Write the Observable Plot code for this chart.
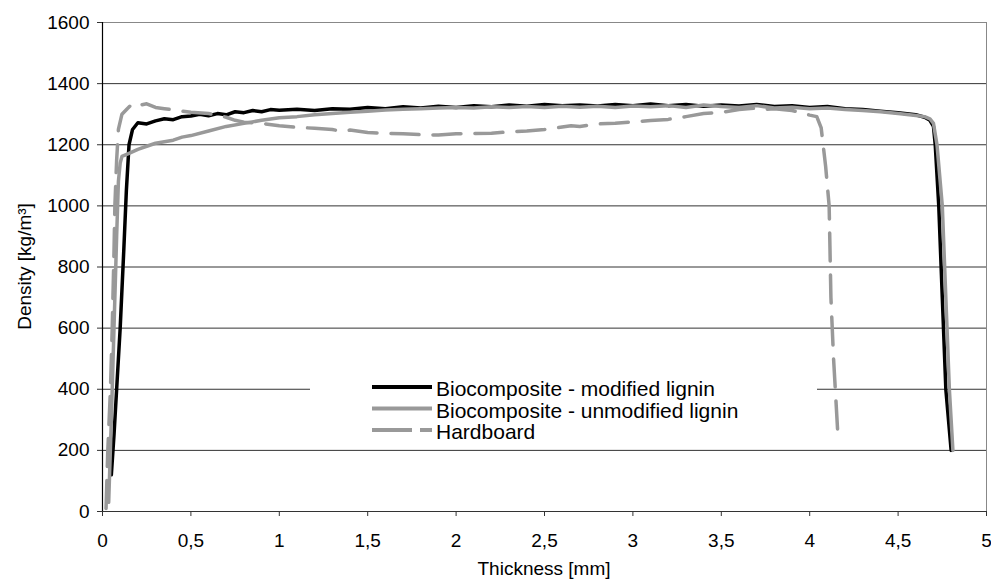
<!DOCTYPE html>
<html><head><meta charset="utf-8">
<script src="https://cdn.jsdelivr.net/npm/d3@7"></script>
<script src="https://cdn.jsdelivr.net/npm/@observablehq/plot@0.6"></script>
<style>
body{margin:0;background:#fff}
#chart{position:relative;width:991px;height:580px}
</style>
</head><body><div id="chart"></div>
<script>
const seriesNames = ["Biocomposite - modified lignin", "Biocomposite - unmodified lignin", "Hardboard"];
const xTicks = [0, 0.5, 1, 1.5, 2, 2.5, 3, 3.5, 4, 4.5, 5];
const yTicks = [0, 200, 400, 600, 800, 1000, 1200, 1400, 1600];
const xTitle = "Thickness [mm]";
const yTitle = "Density [kg/m³]";

// Biocomposite - modified lignin
const modX = [0.05,0.065,0.08,0.1,0.12,0.135,0.15,0.17,0.2,0.25,0.3,0.35,0.4,0.45,0.5,0.55,0.6,0.65,0.7,0.75,0.8,0.85,0.9,0.95,1.0,1.1,1.2,1.3,1.4,1.5,1.6,1.7,1.8,1.9,2.0,2.1,2.2,2.3,2.4,2.5,2.6,2.7,2.8,2.9,3.0,3.1,3.2,3.3,3.4,3.5,3.6,3.7,3.8,3.9,4.0,4.1,4.2,4.3,4.4,4.5,4.6,4.65,4.68,4.7,4.71,4.73,4.75,4.77,4.8];
const modY = [120,250,400,600,850,1050,1200,1250,1272,1268,1278,1285,1282,1292,1294,1300,1295,1302,1298,1308,1305,1312,1308,1315,1313,1316,1312,1318,1316,1322,1318,1324,1320,1326,1322,1328,1324,1330,1326,1332,1328,1330,1327,1332,1328,1333,1328,1332,1326,1330,1327,1332,1325,1328,1322,1325,1318,1315,1310,1305,1298,1290,1280,1260,1200,1000,700,400,200];

// Biocomposite - unmodified lignin
const unmodX = [0.035,0.05,0.065,0.08,0.09,0.1,0.11,0.15,0.2,0.25,0.3,0.35,0.4,0.45,0.5,0.6,0.7,0.8,0.9,1.0,1.1,1.2,1.3,1.4,1.5,1.6,1.7,1.8,1.9,2.0,2.1,2.2,2.3,2.4,2.5,2.6,2.7,2.8,2.9,3.0,3.1,3.2,3.3,3.4,3.5,3.6,3.7,3.8,3.9,4.0,4.1,4.2,4.3,4.4,4.5,4.6,4.65,4.68,4.7,4.72,4.75,4.77,4.79,4.81];
const unmodY = [30,300,600,900,1080,1140,1162,1172,1185,1195,1205,1210,1215,1225,1230,1245,1260,1270,1280,1288,1292,1298,1302,1306,1310,1314,1316,1318,1320,1322,1320,1324,1322,1325,1322,1326,1323,1326,1322,1327,1324,1328,1322,1330,1325,1322,1328,1320,1323,1318,1320,1315,1312,1308,1302,1296,1292,1285,1270,1200,1000,700,400,200];

// Hardboard
const hardX = [0.02,0.03,0.045,0.055,0.065,0.07,0.08,0.09,0.11,0.14,0.17,0.2,0.25,0.3,0.35,0.4,0.5,0.6,0.7,0.75,0.8,0.9,1.0,1.1,1.2,1.3,1.35,1.4,1.5,1.6,1.7,1.8,1.9,2.0,2.1,2.2,2.3,2.4,2.5,2.6,2.65,2.7,2.8,2.9,3.0,3.1,3.2,3.3,3.4,3.5,3.6,3.7,3.75,3.8,3.9,3.95,4.0,4.04,4.065,4.09,4.11,4.12,4.135,4.16];
const hardY = [10,200,400,600,850,1000,1150,1250,1300,1318,1335,1328,1334,1322,1318,1314,1306,1302,1290,1280,1274,1270,1262,1257,1254,1250,1244,1248,1240,1237,1236,1233,1232,1236,1237,1238,1242,1245,1250,1258,1262,1260,1268,1270,1275,1279,1283,1292,1302,1306,1315,1320,1316,1318,1312,1305,1297,1292,1255,1130,1000,700,500,245];

const toRows = (xs, ys) => xs.map((x, i) => ({x, y: ys[i]}));
const modData = toRows(modX, modY);
const unmodData = toRows(unmodX, unmodY);
const hardData = toRows(hardX, hardY);
const gridVals = yTicks.filter(v => v > 0 && v < 1600);
const fmt = d => String(d).replace(".", ",");

const W = 991, H = 580, ML = 102, MR = 5, MT = 22, MB = 69;
const svg = Plot.plot({
  width: W, height: H,
  marginLeft: ML, marginRight: MR, marginTop: MT, marginBottom: MB,
  style: {fontFamily: "'Liberation Sans', Arial, sans-serif", fontSize: "19px", color: "#000", background: "#fff", overflow: "visible"},
  x: {domain: [0, 5]},
  y: {domain: [0, 1600]},
  marks: [
    Plot.frame({stroke: "#888", strokeWidth: 1}),
    Plot.ruleY(gridVals, {stroke: "#333", strokeWidth: 1}),
    Plot.ruleY([0], {stroke: "#333", strokeWidth: 1.2}),
    Plot.ruleX([0], {stroke: "#000", strokeWidth: 1.2}),
    Plot.axisX({ticks: xTicks, tickFormat: fmt, tickSize: 5, tickPadding: 17, label: null, stroke: "#333"}),
    Plot.axisY({ticks: yTicks, tickFormat: d => String(d), tickSize: 5, tickPadding: 8, label: null, stroke: "#333"}),
    Plot.line(modData, {x: "x", y: "y", stroke: "#000", strokeWidth: 3.5, strokeLinejoin: "round"}),
    Plot.line(unmodData, {x: "x", y: "y", stroke: "#999", strokeWidth: 3.5, strokeLinejoin: "round"}),
    Plot.line(hardData, {x: "x", y: "y", stroke: "#999", strokeWidth: 3.5, strokeDasharray: "28,14", strokeLinejoin: "round"})
  ]
});
document.getElementById("chart").appendChild(svg);

const s = d3.select(svg);
// axis titles
s.append("text").attr("x", (ML + W - MR) / 2).attr("y", 575).attr("text-anchor", "middle")
  .style("font-size", "19px").attr("fill", "#000").text(xTitle);
s.append("text").attr("transform", `translate(31,${(MT + H - MB) / 2}) rotate(-90)`).attr("text-anchor", "middle")
  .style("font-size", "19px").attr("fill", "#000").text(yTitle);

// legend
const lg = s.append("g");
lg.append("rect").attr("x", 310).attr("y", 368).attr("width", 507).attr("height", 76).attr("fill", "#fff");
const legendStyles = [
  {stroke: "#000", dash: null},
  {stroke: "#999", dash: null},
  {stroke: "#999", dash: "40,8"}
];
seriesNames.forEach((name, i) => {
  const yy = 387 + i * 21.5;
  lg.append("line").attr("x1", 372).attr("x2", 432).attr("y1", yy).attr("y2", yy)
    .attr("stroke", legendStyles[i].stroke).attr("stroke-width", 4)
    .attr("stroke-dasharray", legendStyles[i].dash);
  lg.append("text").attr("x", 436).attr("y", yy + 9).attr("text-anchor", "start")
    .style("font-size", "21px").attr("fill", "#000").text(name);
});
</script>
</body></html>
